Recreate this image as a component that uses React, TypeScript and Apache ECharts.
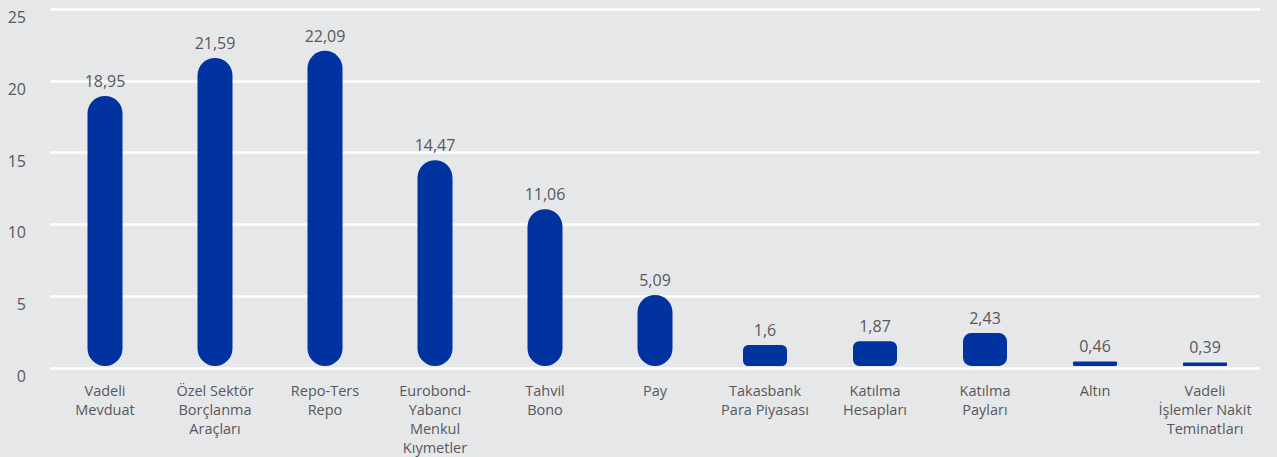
import React, { useEffect, useRef } from "react";
import * as echarts from "echarts";

const categories: string[] = [
  "Vadeli\nMevduat",
  "Özel Sektör\nBorçlanma\nAraçları",
  "Repo-Ters\nRepo",
  "Eurobond-\nYabancı\nMenkul\nKıymetler",
  "Tahvil\nBono",
  "Pay",
  "Takasbank\nPara Piyasası",
  "Katılma\nHesapları",
  "Katılma\nPayları",
  "Altın",
  "Vadeli\nİşlemler Nakit\nTeminatları",
];

const values: number[] = [18.95, 21.59, 22.09, 14.47, 11.06, 5.09, 1.6, 1.87, 2.43, 0.46, 0.39];

const yTicks = { min: 0, max: 25, interval: 5 };

export default function App() {
  const ref = useRef<HTMLDivElement>(null);

  useEffect(() => {
    if (!ref.current) return;
    const chart = echarts.init(ref.current, undefined, { renderer: "svg" });
    const font = "'Open Sans', sans-serif";
    const textColor = "#58585c";
    chart.setOption({
      animation: false,
      backgroundColor: "#e6e7e9",
      grid: { left: 50, right: 17, top: 9, bottom: 87, containLabel: false },
      xAxis: {
        type: "category",
        data: categories,
        axisLine: { show: false },
        axisTick: { show: false },
        axisLabel: {
          interval: 0,
          margin: 13,
          color: textColor,
          fontSize: 14.5,
          lineHeight: 19,
          fontFamily: font,
        },
      },
      yAxis: {
        type: "value",
        min: yTicks.min,
        max: yTicks.max,
        interval: yTicks.interval,
        axisLine: { show: false },
        axisTick: { show: false },
        splitLine: { lineStyle: { color: "#ffffff", width: 2.5 } },
        axisLabel: {
          margin: 24,
          color: textColor,
          fontSize: 16,
          lineHeight: 16,
          verticalAlign: "top",
          fontFamily: font,
        },
      },
      series: [
        {
          type: "custom",
          data: values.map((v, i) => [i, v]),
          encode: { x: 0, y: 1 },
          renderItem: (params: any, api: any) => {
            const idx = api.value(0);
            const val = api.value(1);
            const top = api.coord([idx, val]);
            const base = api.coord([idx, 0]);
            const h = base[1] - top[1] - 2;
            const w = h < 40 ? 44 : 35;
            const r = Math.min(w / 2, h / 4);
            return {
              type: "rect",
              shape: { x: top[0] - w / 2, y: top[1], width: w, height: h, r },
              style: { fill: "#0033a0" },
              textContent: {
                style: {
                  text: String(val).replace(".", ","),
                  fill: textColor,
                  fontSize: 16,
                  fontFamily: font,
                },
              },
              textConfig: { position: "top", distance: 7 },
            };
          },
        },
      ],
    });
    return () => chart.dispose();
  }, []);

  return (
    <div
      ref={ref}
      style={{ position: "fixed", left: 0, top: 0, width: 1277, height: 457 }}
    />
  );
}
